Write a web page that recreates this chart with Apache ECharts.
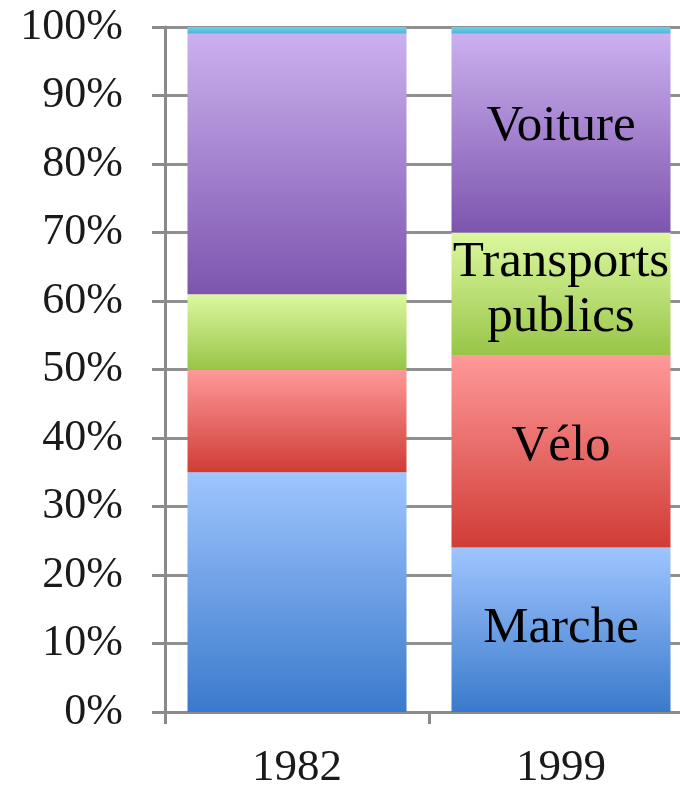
<!DOCTYPE html>
<html>
<head>
<meta charset="utf-8">
<script src="https://cdn.jsdelivr.net/npm/echarts@6/dist/echarts.min.js"></script>
<style>
  html, body { margin: 0; padding: 0; background: #ffffff; }
  #chart { width: 680px; height: 786px; }
</style>
</head>
<body>
<div id="chart"></div>
<script>
// Modal split of trips (%), per survey year
const categories = ['1982', '1999'];
const marche = [35, 24];
const velo = [15, 28];
const transports = [11, 18];
const voiture = [38, 29];
const autres = [1, 1];
const yTicks = [0, 10, 20, 30, 40, 50, 60, 70, 80, 90, 100];

// Year whose segments carry the mode name
const labelledIndex = 1;

function grad(top, bottom) {
  return new echarts.graphic.LinearGradient(0, 0, 0, 1, [
    { offset: 0, color: top },
    { offset: 1, color: bottom }
  ]);
}

const labelFont = {
  fontFamily: '"Liberation Serif", "Times New Roman", serif',
  fontSize: 51,
  color: '#000000',
  lineHeight: 55
};

function makeSeries(name, values, colors, labelText, offsetY) {
  return {
    name: name,
    type: 'bar',
    stack: 'total',
    barWidth: 219,
    itemStyle: { color: grad(colors[0], colors[1]) },
    emphasis: { disabled: true },
    data: values.map((v, i) => ({
      value: v,
      label: {
        show: labelText !== null && i === labelledIndex,
        position: 'inside',
        formatter: labelText || '',
        offset: [0, offsetY || 0],
        ...labelFont
      }
    }))
  };
}

const chart = echarts.init(document.getElementById('chart'), null, { renderer: 'canvas' });

const axisFont = {
  fontFamily: '"Liberation Serif", "Times New Roman", serif',
  color: '#1a1a1a'
};

chart.setOption({
  animation: false,
  backgroundColor: '#ffffff',
  grid: {
    left: 165,
    top: 27,
    width: 528,
    height: 685,
    outerBoundsMode: 'none',
    containLabel: false
  },
  xAxis: {
    type: 'category',
    data: categories,
    boundaryGap: true,
    axisLine: { show: true, lineStyle: { color: '#8a8a8a', width: 3 } },
    axisTick: { show: true, alignWithLabel: false, length: 12, lineStyle: { color: '#8a8a8a', width: 3 } },
    axisLabel: { margin: 34, fontSize: 45, ...axisFont },
    splitLine: { show: false }
  },
  yAxis: {
    type: 'value',
    min: yTicks[0],
    max: yTicks[yTicks.length - 1],
    interval: 10,
    axisLine: { show: true, lineStyle: { color: '#8a8a8a', width: 3 } },
    axisTick: { show: true, inside: false, length: 13, lineStyle: { color: '#8a8a8a', width: 3 } },
    axisLabel: { margin: 42, fontSize: 44, padding: [9, 0, 0, 0], formatter: '{value}%', ...axisFont },
    splitLine: { show: true, lineStyle: { color: '#8f8f8f', width: 3 } }
  },
  series: [
    makeSeries('Marche', marche, ['#9fc5ff', '#3a7acb'], 'Marche', -1),
    makeSeries('Vélo', velo, ['#ff9999', '#d03c36'], 'Vélo', -5),
    makeSeries('Transports publics', transports, ['#dcf8a0', '#98c548'], 'Transports\npublics', -4),
    makeSeries('Voiture', voiture, ['#cbb0ef', '#7d55ae'], 'Voiture', -7),
    makeSeries('Autres', autres, ['#6cd0ee', '#4fb3d6'], null, 0)
  ]
});
</script>
</body>
</html>
